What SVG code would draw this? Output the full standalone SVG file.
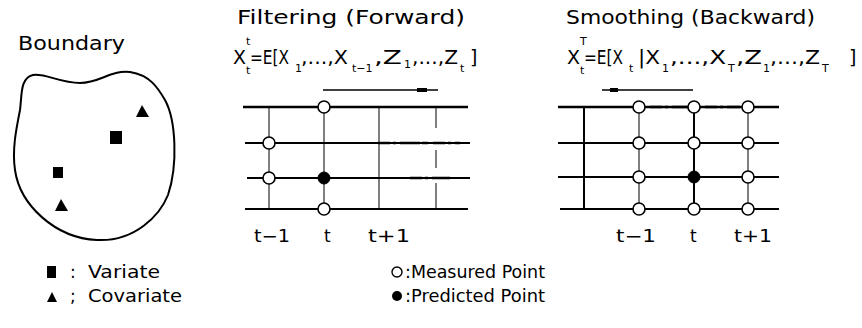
<svg xmlns="http://www.w3.org/2000/svg" width="862" height="328" viewBox="0 0 862 328">
<style>
text{font-family:"DejaVu Sans","Liberation Sans",sans-serif;fill:#000}
.t{font-size:19px}
.f{font-size:19px}
.s{font-size:11px}
.l{font-size:17px}
.h{stroke:#000;stroke-width:2;fill:none}
.hb{stroke:#000;stroke-width:2.6;fill:none}
.v{stroke:#000;stroke-width:1;fill:none}
.vb{stroke:#000;stroke-width:2;fill:none}
.dash{stroke:#000;stroke-width:2.6;fill:none;stroke-dasharray:12 3 3 4 20 2 6 5}
.m{fill:#fff;stroke:#000;stroke-width:1.6}
.p{fill:#000;stroke:#000;stroke-width:1}
</style>
<g id="boundary">
<text class="t" x="18" y="50" textLength="107" lengthAdjust="spacingAndGlyphs">Boundary</text>
<path d="M33,75 C20,78 22,95 20,110 C16,130 12,150 15,170 C20,205 55,238 97,240 C135,242 160,215 168,195 C178,165 176,120 165,100 C158,88 150,75 130,72 C110,70 100,83 80,83 C60,83 45,73 33,75 Z" fill="none" stroke="#000" stroke-width="2"/>
<polygon points="142,105 136,117 149,117"/>
<rect x="110" y="131" width="12" height="13"/>
<rect x="53" y="167" width="10" height="11"/>
<polygon points="61,199 55,211 68,211"/>
</g>
<g id="legend-left">
<rect x="47" y="266" width="9" height="12"/>
<text class="l" x="70" y="278">:</text>
<text class="l" x="88" y="278" textLength="72" lengthAdjust="spacingAndGlyphs">Variate</text>
<polygon points="52,292 47,302 57,302"/>
<text class="l" x="70" y="302">;</text>
<text class="l" x="88" y="302" textLength="94" lengthAdjust="spacingAndGlyphs">Covariate</text>
</g>
<g id="legend-right">
<circle cx="397" cy="272" r="5" fill="#fff" stroke="#000" stroke-width="1.4"/>
<text class="l" x="405" y="278" textLength="140" lengthAdjust="spacingAndGlyphs">:Measured Point</text>
<circle cx="397" cy="296" r="5" fill="#000"/>
<text class="l" x="405" y="302" textLength="140" lengthAdjust="spacingAndGlyphs">:Predicted Point</text>
</g>
<g id="filtering">
<text class="t" x="237" y="24" textLength="228" lengthAdjust="spacingAndGlyphs">Filtering (Forward)</text>
<text class="f" x="233" y="64">X</text>
<text class="s" x="246" y="45">t</text>
<text class="s" x="246" y="74">t</text>
<text class="f" x="250" y="64" textLength="39" lengthAdjust="spacingAndGlyphs">=E[X</text>
<text class="s" x="295" y="72">1</text>
<text class="f" x="301" y="64" textLength="47" lengthAdjust="spacingAndGlyphs"> ,...,X</text>
<text class="s" x="352" y="72">t−1</text>
<text class="f" x="374" y="64" textLength="28" lengthAdjust="spacingAndGlyphs"> ,Z</text>
<text class="s" x="404" y="68">1</text>
<text class="f" x="412" y="64" textLength="46" lengthAdjust="spacingAndGlyphs"> ,...,Z</text>
<text class="s" x="460" y="72">t</text>
<text class="f" x="470" y="64">]</text>
</g>
<g id="smoothing">
<text class="t" x="566" y="24" textLength="249" lengthAdjust="spacingAndGlyphs">Smoothing (Backward)</text>
<text class="f" x="567" y="64">X</text>
<text class="s" x="580" y="45">T</text>
<text class="s" x="580" y="74">t</text>
<text class="f" x="584" y="64" textLength="39" lengthAdjust="spacingAndGlyphs">=E[X</text>
<text class="s" x="629" y="72">t</text>
<text class="f" x="638" y="64" textLength="22" lengthAdjust="spacingAndGlyphs">|X</text>
<text class="s" x="662" y="72">1</text>
<text class="f" x="670" y="64" textLength="56" lengthAdjust="spacingAndGlyphs"> ,...,X</text>
<text class="s" x="728" y="72">T</text>
<text class="f" x="736" y="64" textLength="26" lengthAdjust="spacingAndGlyphs"> ,Z</text>
<text class="s" x="763" y="72">1</text>
<text class="f" x="770" y="64" textLength="50" lengthAdjust="spacingAndGlyphs"> ,...,Z</text>
<text class="s" x="822" y="72">T</text>
<text class="f" x="849" y="64">]</text>
</g>
<g id="connectors">
<line x1="323" y1="90" x2="438" y2="90" stroke="#000" stroke-width="1.5"/>
<rect x="417" y="88" width="10" height="4"/>
<line x1="602" y1="90" x2="693" y2="90" stroke="#000" stroke-width="1.5"/>
<rect x="610" y="88" width="8" height="4"/>
</g>
<g id="filter-grid">
<line class="hb" x1="243" y1="107" x2="468" y2="107"/>
<line class="h" x1="245" y1="143" x2="470" y2="143"/>
<line class="h" x1="247" y1="178" x2="470" y2="178"/>
<line class="h" x1="245" y1="209" x2="468" y2="209"/>
<line class="v" x1="269" y1="107" x2="269" y2="209"/>
<line class="v" x1="324" y1="107" x2="324" y2="209"/>
<line class="v" x1="379" y1="107" x2="379" y2="209"/>
<path class="v" d="M436,107 V128 M436,150 V168 M436,183 V209"/>
<line class="dash" x1="378" y1="143" x2="460" y2="143"/>
<line class="dash" x1="410" y1="178" x2="450" y2="178"/>
<circle class="m" cx="324" cy="107" r="6"/>
<circle class="m" cx="269" cy="143" r="6"/>
<circle class="m" cx="269" cy="178" r="6"/>
<circle class="p" cx="324" cy="178" r="6"/>
<circle class="m" cx="324" cy="209" r="6"/>
<text class="l" x="254" y="242" textLength="36" lengthAdjust="spacingAndGlyphs">t−1</text>
<text class="l" x="324" y="242">t</text>
<text class="l" x="368" y="242" textLength="42" lengthAdjust="spacingAndGlyphs">t+1</text>
</g>
<g id="smooth-grid">
<line class="hb" x1="558" y1="107" x2="779" y2="107"/>
<line class="h" x1="558" y1="143" x2="779" y2="143"/>
<line class="h" x1="558" y1="177" x2="779" y2="177"/>
<line class="h" x1="560" y1="209" x2="779" y2="209"/>
<line class="vb" x1="584" y1="107" x2="584" y2="209"/>
<line class="v" x1="639" y1="107" x2="639" y2="209"/>
<line class="vb" x1="694" y1="107" x2="694" y2="209"/>
<line class="v" x1="748" y1="107" x2="748" y2="209"/>
<line class="dash" x1="650" y1="107" x2="740" y2="107"/>
<circle class="m" cx="639" cy="107" r="6"/>
<circle class="m" cx="639" cy="143" r="6"/>
<circle class="m" cx="639" cy="177" r="6"/>
<circle class="m" cx="639" cy="209" r="6"/>
<circle class="m" cx="694" cy="107" r="6"/>
<circle class="m" cx="694" cy="143" r="6"/>
<circle class="p" cx="694" cy="177" r="6"/>
<circle class="m" cx="694" cy="209" r="6"/>
<circle class="m" cx="748" cy="107" r="6"/>
<circle class="m" cx="748" cy="143" r="6"/>
<circle class="m" cx="748" cy="177" r="6"/>
<circle class="m" cx="748" cy="209" r="6"/>
<text class="l" x="616" y="242" textLength="40" lengthAdjust="spacingAndGlyphs">t−1</text>
<text class="l" x="690" y="242">t</text>
<text class="l" x="734" y="242" textLength="38" lengthAdjust="spacingAndGlyphs">t+1</text>
</g>
</svg>
